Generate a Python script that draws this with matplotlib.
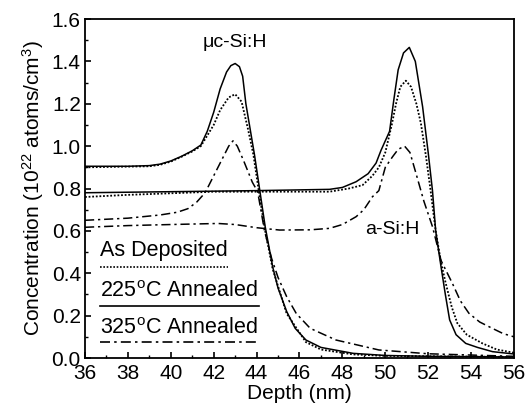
import matplotlib
matplotlib.use("Agg")
import matplotlib.pyplot as plt
from matplotlib.lines import Line2D
from matplotlib.ticker import MultipleLocator, FormatStrFormatter

plt.rcParams['font.family'] = ['Liberation Sans', 'DejaVu Sans']
plt.rcParams['mathtext.fontset'] = 'custom'
plt.rcParams['mathtext.rm'] = 'Liberation Sans'
plt.rcParams['mathtext.it'] = 'Liberation Sans:italic'

# uc-Si:H layer, peak near 43 nm
uc_225_x = [36, 38, 39, 39.5, 40.0, 40.5, 41, 41.4, 41.7, 42, 42.3, 42.6, 42.8, 43.0, 43.2, 43.35, 43.5, 43.7, 43.9,
            44.15, 44.4, 44.75, 45.0, 45.4, 45.8, 46.3, 47, 48.5, 50, 52, 56]
uc_225_y = [0.905, 0.905, 0.908, 0.915, 0.93, 0.952, 0.978, 1.005, 1.07, 1.16, 1.27, 1.35, 1.38, 1.39, 1.375, 1.33,
            1.20, 1.08, 0.96, 0.79, 0.62, 0.43, 0.33, 0.22, 0.14, 0.085, 0.05, 0.022, 0.012, 0.008, 0.005]

uc_dep_x = [36, 39, 39.5, 40.0, 40.5, 41, 41.4, 41.7, 42, 42.3, 42.7, 43.0, 43.3, 43.6, 43.85, 44.1, 44.4, 44.75,
            45.4, 46.3, 47, 48.5, 50, 56]
uc_dep_y = [0.90, 0.905, 0.912, 0.927, 0.95, 0.975, 1.0, 1.05, 1.1, 1.17, 1.23, 1.245, 1.21, 1.08, 0.96, 0.79, 0.60,
            0.42, 0.21, 0.075, 0.04, 0.017, 0.01, 0.005]

uc_325_x = [36, 38, 39.5, 40.3, 40.8, 41.2, 41.6, 42.0, 42.4, 42.7, 42.9, 43.1, 43.4, 43.8, 44.05, 44.37, 44.7,
            45.0, 45.4, 45.85, 46.5, 47.7, 49.7, 52, 56]
uc_325_y = [0.65, 0.66, 0.675, 0.688, 0.705, 0.735, 0.78, 0.86, 0.94, 1.0, 1.025, 1.0, 0.93, 0.83, 0.785, 0.60, 0.47,
            0.38, 0.29, 0.21, 0.14, 0.085, 0.038, 0.02, 0.008]

# a-Si:H layer, peak near 51 nm
a_225_x = [36, 40, 44, 47.4, 48.0, 48.64, 49.2, 49.57, 49.8, 50.2, 50.4, 50.6, 50.85, 51.12, 51.4, 51.74, 52.0,
           52.2, 52.35, 52.6, 52.8, 53.0, 53.3, 53.75, 54.3, 55, 56]
a_225_y = [0.78, 0.785, 0.79, 0.796, 0.805, 0.832, 0.87, 0.92, 0.98, 1.07, 1.22, 1.36, 1.44, 1.466, 1.40, 1.186, 0.97,
           0.79, 0.60, 0.43, 0.30, 0.18, 0.11, 0.069, 0.05, 0.03, 0.019]

a_dep_x = [36, 38, 42, 47.4, 48.3, 48.94, 49.4, 49.7, 50.0, 50.3, 50.5, 50.7, 50.96, 51.2, 51.45, 51.66, 51.9,
           52.1, 52.35, 52.6, 52.82, 53.1, 53.36, 53.8, 54.53, 55.2, 56]
a_dep_y = [0.76, 0.77, 0.785, 0.785, 0.80, 0.816, 0.86, 0.90, 0.97, 1.1, 1.2, 1.28, 1.309, 1.28, 1.2, 1.108, 0.95,
           0.80, 0.60, 0.45, 0.352, 0.24, 0.164, 0.11, 0.069, 0.04, 0.025]

a_325_x = [36, 38, 40, 42.2, 43, 44, 45.07, 46.5, 47.4, 48.0, 48.64, 49.0, 49.4, 49.7, 50.0, 50.34, 50.6, 50.9,
           51.15, 51.43, 51.8, 52.2, 52.6, 53.13, 53.5, 53.9, 54.4, 54.99, 55.5, 56]
a_325_y = [0.617, 0.625, 0.63, 0.635, 0.63, 0.615, 0.604, 0.605, 0.612, 0.63, 0.667, 0.70, 0.761, 0.79, 0.9, 0.95,
           0.985, 1.0, 0.97, 0.872, 0.74, 0.62, 0.46, 0.352, 0.27, 0.211, 0.17, 0.14, 0.115, 0.10]

legend_labels = ['As Deposited', '225$^{\\mathrm{o}}$C Annealed', '325$^{\\mathrm{o}}$C Annealed']

dot = (0, (1.0, 1.0))
dashdot = (0, (6, 2.5, 1.5, 2.5))
styles = [dot, '-', dashdot]

fig = plt.figure(figsize=(5.29, 4.16), dpi=100)
ax = fig.add_axes([0.1607, 0.1394, 0.8109, 0.8149])

lw = 1.1
ax.plot(uc_225_x, uc_225_y, color='black', lw=lw, linestyle='-')
ax.plot(uc_dep_x, uc_dep_y, color='black', lw=1.3, linestyle=dot)
ax.plot(uc_325_x, uc_325_y, color='black', lw=lw, linestyle=dashdot)
ax.plot(a_225_x, a_225_y, color='black', lw=lw, linestyle='-')
ax.plot(a_dep_x, a_dep_y, color='black', lw=1.3, linestyle=dot)
ax.plot(a_325_x, a_325_y, color='black', lw=lw, linestyle=dashdot)

ax.set_xlim(36, 56)
ax.set_ylim(0, 1.6)
ax.xaxis.set_major_locator(MultipleLocator(2))
ax.xaxis.set_minor_locator(MultipleLocator(1))
ax.yaxis.set_major_locator(MultipleLocator(0.2))
ax.yaxis.set_minor_locator(MultipleLocator(0.1))
ax.yaxis.set_major_formatter(FormatStrFormatter('%.1f'))
ax.tick_params(which='both', direction='in', top=False, right=False, labelsize=15)
ax.tick_params(which='major', length=4, width=1.2)
ax.tick_params(which='minor', length=2.5, width=1.0)
ax.tick_params(axis='x', pad=4)
ax.tick_params(axis='y', pad=3)
for s in ax.spines.values():
    s.set_linewidth(1.3)

ax.set_xlabel('Depth (nm)', fontsize=15, labelpad=1)
ax.set_ylabel('Concentration (10$^{22}$ atoms/cm$^{3}$)', fontsize=15, labelpad=4)

ax.text(43.0, 1.49, '\u03bcc-Si:H', fontsize=14, ha='center', va='center')
ax.text(50.33, 0.605, 'a-Si:H', fontsize=14, ha='center', va='center')

# legend drawn as text with sample line underneath
text_y = [0.316, 0.196, 0.0875]
line_y = [0.2675, 0.153, 0.046]
line_x1 = [0.3325, 0.405, 0.405]
for lab, st, ty, ly, x1 in zip(legend_labels, styles, text_y, line_y, line_x1):
    ax.text(0.035, ty, lab, fontsize=15.5, transform=ax.transAxes, ha='left', va='center')
    ax.add_line(Line2D([0.035, x1], [ly, ly], transform=ax.transAxes, color='black', lw=1.2, linestyle=st))

fig.savefig('out.png', dpi=100)
